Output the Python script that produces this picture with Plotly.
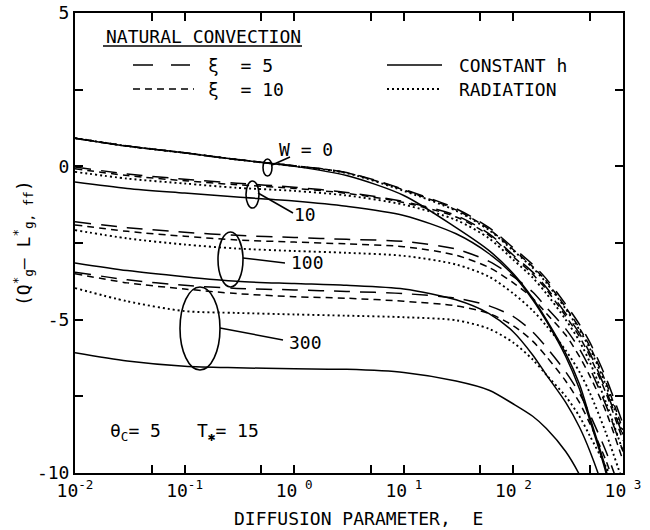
import plotly.graph_objects as go

# ---------------- data ----------------
E = [0.01, 0.03, 0.1, 0.3, 1, 3, 10, 30, 60, 100, 150, 200, 300, 400, 500, 700, 1000]

# W = 0
W0_h   = [0.92, 0.66, 0.44, 0.22, 0.00, -0.30, -0.95, -2.00, -2.75, -3.50, -4.30, -5.00, -6.10, -7.10, -8.20, -9.90, -12.5]
W0_d5  = [0.92, 0.66, 0.44, 0.22, 0.02, -0.20, -0.75, -1.38, -2.00, -2.66, -3.20, -3.67, -4.50, -5.15, -5.75, -6.90, -8.40]
W0_d10 = [0.92, 0.66, 0.44, 0.22, 0.02, -0.21, -0.77, -1.42, -2.05, -2.72, -3.27, -3.75, -4.60, -5.27, -5.88, -7.05, -8.60]
W0_rad = [0.92, 0.66, 0.44, 0.22, 0.01, -0.22, -0.80, -1.45, -2.08, -2.75, -3.31, -3.80, -4.65, -5.33, -5.95, -7.15, -8.75]
# W = 10
W10_h   = [-0.51, -0.72, -0.87, -1.00, -1.13, -1.30, -1.60, -2.20, -2.85, -3.55, -4.35, -5.05, -6.20, -7.25, -8.30, -10.0, -12.5]
W10_d5  = [-0.02, -0.25, -0.42, -0.55, -0.68, -0.85, -1.15, -1.60, -2.20, -2.90, -3.45, -3.95, -4.80, -5.45, -6.10, -7.30, -8.80]
W10_d10 = [-0.08, -0.30, -0.47, -0.60, -0.72, -0.88, -1.18, -1.65, -2.25, -2.95, -3.52, -4.02, -4.88, -5.55, -6.20, -7.40, -8.95]
W10_rad = [-0.18, -0.40, -0.56, -0.70, -0.80, -0.95, -1.25, -1.75, -2.35, -3.05, -3.63, -4.15, -5.00, -5.70, -6.40, -7.70, -9.30]
# W = 100
W100_h   = [-3.15, -3.40, -3.60, -3.75, -3.82, -3.88, -4.00, -4.35, -4.80, -5.40, -6.15, -6.80, -7.70, -8.50, -9.30, -10.8, -13.0]
W100_d5  = [-1.81, -2.00, -2.15, -2.25, -2.32, -2.38, -2.45, -2.70, -3.10, -3.60, -4.10, -4.60, -5.30, -5.95, -6.60, -7.80, -9.30]
W100_d10 = [-1.91, -2.12, -2.28, -2.40, -2.47, -2.53, -2.62, -2.90, -3.30, -3.80, -4.30, -4.80, -5.50, -6.20, -6.85, -8.00, -9.60]
W100_rad = [-2.08, -2.35, -2.55, -2.68, -2.76, -2.82, -2.92, -3.20, -3.60, -4.15, -4.70, -5.20, -6.00, -6.70, -7.40, -8.70, -10.3]
# W = 300
W300_h   = [-6.08, -6.35, -6.52, -6.57, -6.60, -6.62, -6.72, -7.00, -7.30, -7.75, -8.15, -8.55, -9.30, -10.05, -10.8, -12.0, -13.5]
W300_d5  = [-3.45, -3.70, -3.88, -3.98, -4.03, -4.08, -4.15, -4.30, -4.55, -4.90, -5.40, -5.90, -6.70, -7.40, -8.10, -9.30, -10.8]
W300_d10 = [-3.50, -3.80, -4.00, -4.15, -4.25, -4.30, -4.40, -4.55, -4.80, -5.20, -5.70, -6.20, -7.00, -7.70, -8.40, -9.60, -11.2]
W300_rad = [-3.97, -4.40, -4.72, -4.78, -4.83, -4.87, -4.92, -5.02, -5.30, -5.75, -6.30, -6.80, -7.50, -8.15, -8.80, -9.80, -11.0]

X_TICKS = [0.01, 0.05, 0.1, 0.5, 1, 5, 10, 50, 100, 500, 1000]
X_TICKTEXT = ["10<sup>-2</sup>", "", "10<sup>-1</sup>", "", "10<sup> 0</sup>", "",
              "10<sup> 1</sup>", "", "10<sup> 2</sup>", "", "10<sup> 3</sup>"]
Y_TICKS = [-10, -7.5, -5, -2.5, 0, 2.5, 5]
Y_TICKTEXT = ["-10", "", "-5", "", "0", "", "5"]

# ---------------- styling ----------------
FONT = "DejaVu Sans Mono"
STY = {
    "h":   dict(color="black", width=1.5, dash="solid"),
    "rad": dict(color="black", width=1.9, dash="2px,3px"),
    "d5":  dict(color="black", width=1.5, dash="16px,10px"),
    "d10": dict(color="black", width=1.5, dash="7px,5px"),
}
groups = [
    (W0_h, W0_d5, W0_d10, W0_rad),
    (W10_h, W10_d5, W10_d10, W10_rad),
    (W100_h, W100_d5, W100_d10, W100_rad),
    (W300_h, W300_d5, W300_d10, W300_rad),
]

fig = go.Figure()
for h, d5, d10, rad in groups:
    for ys, key in ((rad, "rad"), (d5, "d5"), (d10, "d10"), (h, "h")):
        fig.add_trace(go.Scatter(x=E, y=ys, mode="lines", line=dict(shape="spline", smoothing=0.8, **STY[key]),
                                 showlegend=False, hoverinfo="skip"))

# plot area in page pixels
L, R, T, B = 75, 623, 13, 473
def px(x):
    return (x - L) / (R - L)
def py(y):
    return (B - y) / (B - T)

shapes = []
annots = []
def text(x, y, s, size=18, xanchor="left", angle=0):
    annots.append(dict(x=px(x), y=py(y), xref="paper", yref="paper", text=s, showarrow=False,
                       xanchor=xanchor, yanchor="middle", textangle=angle,
                       font=dict(family=FONT, size=size, color="black")))
def seg(x0, y0, x1, y1, dash="solid", width=1.5):
    shapes.append(dict(type="line", xref="paper", yref="paper", x0=px(x0), y0=py(y0), x1=px(x1), y1=py(y1),
                       line=dict(color="black", width=width, dash=dash)))
def ell(x0, y0, x1, y1):
    shapes.append(dict(type="circle", xref="paper", yref="paper", x0=px(x0), y0=py(y1), x1=px(x1), y1=py(y0),
                       line=dict(color="black", width=1.6)))

# legend
text(203, 36, "NATURAL CONVECTION", xanchor="center")
seg(103, 46, 302, 46, width=1.4)
seg(133, 65, 153, 65)
seg(171, 65, 190, 65)
text(206, 65, "ξ  = 5")
seg(133, 89, 194, 89, dash=STY["d10"]["dash"])
text(206, 89, "ξ  = 10")
seg(387, 65, 442, 65)
text(457, 65, "CONSTANT h")
seg(387, 89, 441, 89, dash=STY["rad"]["dash"], width=1.9)
text(457, 89, "RADIATION")

# W labels, ellipses, leaders
ell(263, 159, 272, 176)
seg(272, 165, 290, 157)
text(277, 150, "W = 0")
ell(246, 181, 259, 208)
seg(258, 193, 293, 213)
text(292, 214, "10")
ell(218, 232, 243, 287)
seg(243, 258, 285, 263)
text(289, 262, "100")
ell(180, 287, 220, 370)
seg(220, 328, 283, 340)
text(287, 342, "300")

text(108, 432, "θ<sub>C</sub>= 5")
text(195, 432, "T<sub>✱</sub>= 15")

# axis titles
text(232, 518, "DIFFUSION PARAMETER,  E", xanchor="left")
annots.append(dict(x=px(23), y=py(243), xref="paper", yref="paper", showarrow=False, textangle=-90,
                   xanchor="center", yanchor="middle",
                   text="(Q<sup>*</sup><sub>g</sub>– L<sup>*</sup><sub>g, ff</sub>)",
                   font=dict(family=FONT, size=18, color="black")))

axis_common = dict(showline=True, linecolor="black", linewidth=2, mirror="ticks", ticks="inside",
                   ticklen=8, tickwidth=1.5, tickcolor="black", showgrid=False, zeroline=False,
                   automargin=False, ticklabeloverflow="allow",
                   tickfont=dict(family=FONT, size=18, color="black"))
fig.update_xaxes(type="log", range=[-2, 3], tickmode="array", tickvals=X_TICKS, ticktext=X_TICKTEXT,
                 **axis_common)
fig.update_yaxes(range=[-10, 5], tickmode="array", tickvals=Y_TICKS, ticktext=Y_TICKTEXT, **axis_common)

fig.update_layout(width=650, height=530,
                  margin=dict(l=L, r=650 - R, t=T, b=530 - B, autoexpand=False),
                  paper_bgcolor="white", plot_bgcolor="white", showlegend=False,
                  shapes=shapes, annotations=annots)
fig.write_html("out.html", config={"displayModeBar": False},
               post_script="document.body.style.margin='0px';")
